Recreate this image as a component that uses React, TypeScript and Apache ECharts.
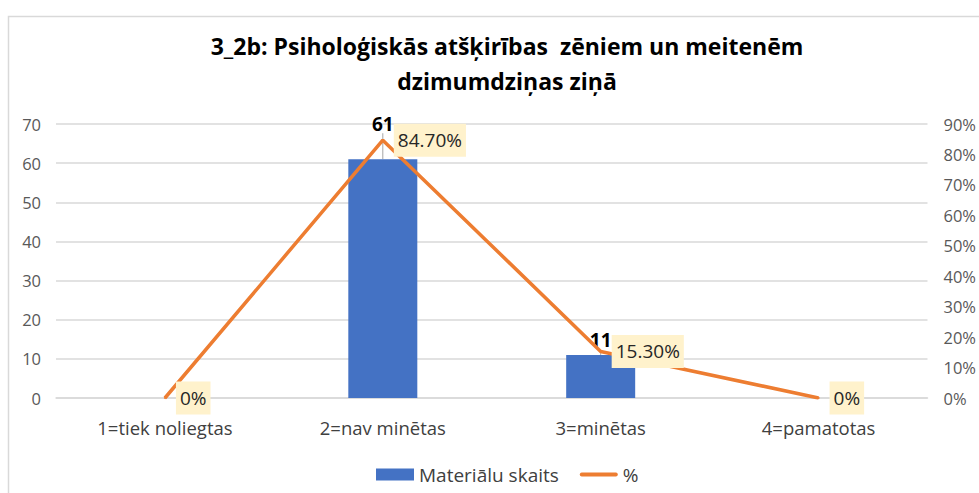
import React, { useEffect, useRef } from "react";
import * as echarts from "echarts";

const categories = ["1=tiek noliegtas", "2=nav minētas", "3=minētas", "4=pamatotas"];
const counts = [0, 61, 11, 0];
const percents = [0, 0.847, 0.153, 0];
const leftTicks = { min: 0, max: 70, interval: 10 };
const rightTicks = { min: 0, max: 0.9, interval: 0.1 };

const FONT = "'Open Sans', 'Noto Sans', sans-serif";

export default function App() {
  const ref = useRef<HTMLDivElement>(null);
  useEffect(() => {
    if (!ref.current) return;
    const chart = echarts.init(ref.current, undefined, { renderer: "svg" });
    chart.setOption({
      animation: false,
      textStyle: { fontFamily: FONT },
      title: {
        text: "3_2b: Psiholoģiskās atšķirības  zēniem un meitenēm\ndzimumdziņas ziņā",
        left: 502,
        textAlign: "center",
        top: 23,
        textStyle: { fontSize: 23, fontWeight: "bold", color: "#000", lineHeight: 35, fontFamily: FONT },
      },
      graphic: [
        {
          type: "rect",
          shape: { x: 8.5, y: 16.5, width: 1000, height: 500 },
          style: { fill: "none", stroke: "#d9d9d9", lineWidth: 1.5 },
          silent: true,
        },
      ],
      legend: {
        top: 460,
        left: 371,
        itemGap: 21,
        itemWidth: 38,
        itemHeight: 12,
        textStyle: { fontSize: 19, color: "#404040", fontFamily: FONT },
        data: [
          { name: "Materiālu skaits", icon: "rect" },
          {
            name: "%",
            icon: "path://M2,4 L38,4 A2,2 0 0 1 38,8 L2,8 A2,2 0 0 1 2,4 Z",
            itemStyle: { color: "#ED7D31", opacity: 1 },
          },
        ],
      },
      grid: { left: 56, right: 47, top: 124, bottom: 95 },
      xAxis: {
        type: "category",
        data: categories,
        axisLine: { show: true, lineStyle: { color: "#d9d9d9", width: 1.5 } },
        axisTick: { show: false },
        axisLabel: { fontSize: 18.5, color: "#404040", margin: 20, fontFamily: FONT },
      },
      yAxis: [
        {
          type: "value",
          min: leftTicks.min,
          max: leftTicks.max,
          interval: leftTicks.interval,
          axisLine: { show: false },
          axisTick: { show: false },
          splitLine: { lineStyle: { color: "#d9d9d9", width: 1.5 } },
          axisLabel: { fontSize: 16.5, color: "#595959", margin: 15, fontFamily: FONT },
        },
        {
          type: "value",
          min: rightTicks.min,
          max: rightTicks.max,
          interval: rightTicks.interval,
          axisLine: { show: false },
          axisTick: { show: false },
          splitLine: { show: false },
          axisLabel: {
            fontSize: 16.5,
            color: "#595959",
            margin: 16,
            fontFamily: FONT,
            formatter: (v: number) => Math.round(v * 100) + "%",
          },
        },
      ],
      series: [
        {
          name: "Materiālu skaits",
          type: "bar",
          data: counts.map((v) => (v === 0 ? null : v)),
          barWidth: 69,
          itemStyle: { color: "#4472C4" },
          label: {
            show: true,
            position: "top",
            distance: 5,
            fontSize: 19,
            fontWeight: "bold",
            color: "#000",
            fontFamily: FONT,
          },
          labelLayout: (p: any) => (p.dataIndex === 1 ? { dy: -21 } : {}),
          labelLine: { show: true, lineStyle: { color: "#a6a6a6", width: 1 } },
          z: 2,
        },
        {
          name: "%",
          type: "line",
          yAxisIndex: 1,
          data: percents,
          symbol: "circle",
          symbolSize: 2,
          showSymbol: true,
          lineStyle: { color: "#ED7D31", width: 3.5 },
          itemStyle: { color: "#ED7D31" },
          label: {
            show: true,
            position: "right",
            distance: 10,
            fontSize: 19,
            color: "#262626",
            backgroundColor: "#FFF2CC",
            padding: [7, 4],
            fontFamily: FONT,
            formatter: (p: any) => (p.value === 0 ? "0%" : (p.value * 100).toFixed(2) + "%"),
          },
          labelLayout: { hideOverlap: false },
          z: 3,
        },
      ],
    });
    return () => chart.dispose();
  }, []);
  return (
    <div
      ref={ref}
      style={{ position: "absolute", left: 0, top: 0, width: 979, height: 493, background: "#fff" }}
    />
  );
}
